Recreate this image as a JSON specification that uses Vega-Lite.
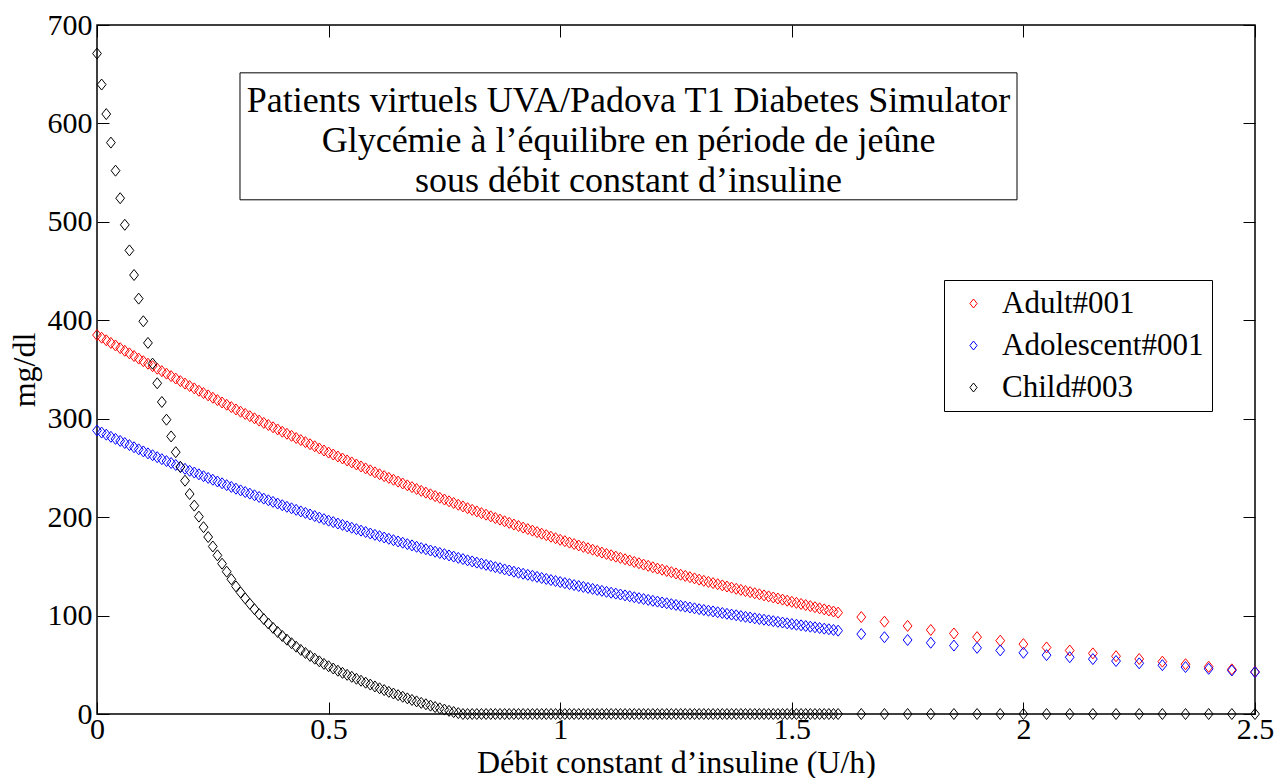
{
"$schema":"https://vega.github.io/schema/vega-lite/v6.json",
"width":1158,"height":689,
"autosize":{"type":"none"},
"padding":{"left":97,"top":25,"right":26,"bottom":64},
"background":"white",
"config":{"view":{"stroke":"black","strokeWidth":1.5},"font":"Liberation Serif",
"legend":{"labelFont":"Liberation Serif","titleFont":"Liberation Serif"},
"text":{"font":"Liberation Serif"},
"axis":{"labelFont":"Liberation Serif","titleFont":"Liberation Serif","labelFontSize":30,"titleFontSize":32,"titleFontWeight":"normal","labelColor":"black","titleColor":"black","tickColor":"black","tickWidth":1,"tickSize":-12,"domain":false,"grid":false,"labelFlush":false,"labelOverlap":false}},
"datasets":{"glyc":[
{"s":"Adult#001","x":0,"y":385},{"s":"Adult#001","x":0.01,"y":382.3},{"s":"Adult#001","x":0.02,"y":379.7},{"s":"Adult#001","x":0.03,"y":377},{"s":"Adult#001","x":0.04,"y":374.4},{"s":"Adult#001","x":0.05,"y":371.7},{"s":"Adult#001","x":0.06,"y":369},{"s":"Adult#001","x":0.07,"y":366.4},{"s":"Adult#001","x":0.08,"y":363.7},{"s":"Adult#001","x":0.09,"y":361.1},
{"s":"Adult#001","x":0.1,"y":358.4},{"s":"Adult#001","x":0.11,"y":355.9},{"s":"Adult#001","x":0.12,"y":353.4},{"s":"Adult#001","x":0.13,"y":350.8},{"s":"Adult#001","x":0.14,"y":348.3},{"s":"Adult#001","x":0.15,"y":345.8},{"s":"Adult#001","x":0.16,"y":343.3},{"s":"Adult#001","x":0.17,"y":340.8},{"s":"Adult#001","x":0.18,"y":338.2},{"s":"Adult#001","x":0.19,"y":335.7},
{"s":"Adult#001","x":0.2,"y":333.2},{"s":"Adult#001","x":0.21,"y":330.8},{"s":"Adult#001","x":0.22,"y":328.4},{"s":"Adult#001","x":0.23,"y":326.1},{"s":"Adult#001","x":0.24,"y":323.7},{"s":"Adult#001","x":0.25,"y":321.3},{"s":"Adult#001","x":0.26,"y":318.9},{"s":"Adult#001","x":0.27,"y":316.5},{"s":"Adult#001","x":0.28,"y":314.2},{"s":"Adult#001","x":0.29,"y":311.8},
{"s":"Adult#001","x":0.3,"y":309.4},{"s":"Adult#001","x":0.31,"y":307.1},{"s":"Adult#001","x":0.32,"y":304.9},{"s":"Adult#001","x":0.33,"y":302.6},{"s":"Adult#001","x":0.34,"y":300.4},{"s":"Adult#001","x":0.35,"y":298.1},{"s":"Adult#001","x":0.36,"y":295.8},{"s":"Adult#001","x":0.37,"y":293.6},{"s":"Adult#001","x":0.38,"y":291.3},{"s":"Adult#001","x":0.39,"y":289.1},
{"s":"Adult#001","x":0.4,"y":286.8},{"s":"Adult#001","x":0.41,"y":284.7},{"s":"Adult#001","x":0.42,"y":282.6},{"s":"Adult#001","x":0.43,"y":280.4},{"s":"Adult#001","x":0.44,"y":278.3},{"s":"Adult#001","x":0.45,"y":276.2},{"s":"Adult#001","x":0.46,"y":274.1},{"s":"Adult#001","x":0.47,"y":272},{"s":"Adult#001","x":0.48,"y":269.8},{"s":"Adult#001","x":0.49,"y":267.7},
{"s":"Adult#001","x":0.5,"y":265.6},{"s":"Adult#001","x":0.51,"y":263.6},{"s":"Adult#001","x":0.52,"y":261.6},{"s":"Adult#001","x":0.53,"y":259.6},{"s":"Adult#001","x":0.54,"y":257.6},{"s":"Adult#001","x":0.55,"y":255.6},{"s":"Adult#001","x":0.56,"y":253.5},{"s":"Adult#001","x":0.57,"y":251.5},{"s":"Adult#001","x":0.58,"y":249.5},{"s":"Adult#001","x":0.59,"y":247.5},
{"s":"Adult#001","x":0.6,"y":245.5},{"s":"Adult#001","x":0.61,"y":243.6},{"s":"Adult#001","x":0.62,"y":241.7},{"s":"Adult#001","x":0.63,"y":239.9},{"s":"Adult#001","x":0.64,"y":238},{"s":"Adult#001","x":0.65,"y":236.1},{"s":"Adult#001","x":0.66,"y":234.2},{"s":"Adult#001","x":0.67,"y":232.3},{"s":"Adult#001","x":0.68,"y":230.5},{"s":"Adult#001","x":0.69,"y":228.6},
{"s":"Adult#001","x":0.7,"y":226.7},{"s":"Adult#001","x":0.71,"y":224.9},{"s":"Adult#001","x":0.72,"y":223.2},{"s":"Adult#001","x":0.73,"y":221.4},{"s":"Adult#001","x":0.74,"y":219.7},{"s":"Adult#001","x":0.75,"y":217.9},{"s":"Adult#001","x":0.76,"y":216.1},{"s":"Adult#001","x":0.77,"y":214.4},{"s":"Adult#001","x":0.78,"y":212.6},{"s":"Adult#001","x":0.79,"y":210.9},
{"s":"Adult#001","x":0.8,"y":209.1},{"s":"Adult#001","x":0.81,"y":207.4},{"s":"Adult#001","x":0.82,"y":205.8},{"s":"Adult#001","x":0.83,"y":204.1},{"s":"Adult#001","x":0.84,"y":202.5},{"s":"Adult#001","x":0.85,"y":200.8},{"s":"Adult#001","x":0.86,"y":199.1},{"s":"Adult#001","x":0.87,"y":197.5},{"s":"Adult#001","x":0.88,"y":195.8},{"s":"Adult#001","x":0.89,"y":194.2},
{"s":"Adult#001","x":0.9,"y":192.5},{"s":"Adult#001","x":0.91,"y":191},{"s":"Adult#001","x":0.92,"y":189.4},{"s":"Adult#001","x":0.93,"y":187.9},{"s":"Adult#001","x":0.94,"y":186.3},{"s":"Adult#001","x":0.95,"y":184.8},{"s":"Adult#001","x":0.96,"y":183.2},{"s":"Adult#001","x":0.97,"y":181.7},{"s":"Adult#001","x":0.98,"y":180.1},{"s":"Adult#001","x":0.99,"y":178.6},
{"s":"Adult#001","x":1,"y":177},{"s":"Adult#001","x":1.01,"y":175.6},{"s":"Adult#001","x":1.02,"y":174.1},{"s":"Adult#001","x":1.03,"y":172.7},{"s":"Adult#001","x":1.04,"y":171.2},{"s":"Adult#001","x":1.05,"y":169.8},{"s":"Adult#001","x":1.06,"y":168.4},{"s":"Adult#001","x":1.07,"y":166.9},{"s":"Adult#001","x":1.08,"y":165.5},{"s":"Adult#001","x":1.09,"y":164},
{"s":"Adult#001","x":1.1,"y":162.6},{"s":"Adult#001","x":1.11,"y":161.3},{"s":"Adult#001","x":1.12,"y":159.9},{"s":"Adult#001","x":1.13,"y":158.6},{"s":"Adult#001","x":1.14,"y":157.2},{"s":"Adult#001","x":1.15,"y":155.9},{"s":"Adult#001","x":1.16,"y":154.5},{"s":"Adult#001","x":1.17,"y":153.2},{"s":"Adult#001","x":1.18,"y":151.8},{"s":"Adult#001","x":1.19,"y":150.5},
{"s":"Adult#001","x":1.2,"y":149.1},{"s":"Adult#001","x":1.21,"y":147.8},{"s":"Adult#001","x":1.22,"y":146.6},{"s":"Adult#001","x":1.23,"y":145.3},{"s":"Adult#001","x":1.24,"y":144.1},{"s":"Adult#001","x":1.25,"y":142.8},{"s":"Adult#001","x":1.26,"y":141.5},{"s":"Adult#001","x":1.27,"y":140.3},{"s":"Adult#001","x":1.28,"y":139},{"s":"Adult#001","x":1.29,"y":137.8},
{"s":"Adult#001","x":1.3,"y":136.5},{"s":"Adult#001","x":1.31,"y":135.3},{"s":"Adult#001","x":1.32,"y":134.2},{"s":"Adult#001","x":1.33,"y":133},{"s":"Adult#001","x":1.34,"y":131.9},{"s":"Adult#001","x":1.35,"y":130.7},{"s":"Adult#001","x":1.36,"y":129.5},{"s":"Adult#001","x":1.37,"y":128.4},{"s":"Adult#001","x":1.38,"y":127.2},{"s":"Adult#001","x":1.39,"y":126.1},
{"s":"Adult#001","x":1.4,"y":124.9},{"s":"Adult#001","x":1.41,"y":123.8},{"s":"Adult#001","x":1.42,"y":122.7},{"s":"Adult#001","x":1.43,"y":121.6},{"s":"Adult#001","x":1.44,"y":120.5},{"s":"Adult#001","x":1.45,"y":119.5},{"s":"Adult#001","x":1.46,"y":118.4},{"s":"Adult#001","x":1.47,"y":117.3},{"s":"Adult#001","x":1.48,"y":116.2},{"s":"Adult#001","x":1.49,"y":115.1},
{"s":"Adult#001","x":1.5,"y":114},{"s":"Adult#001","x":1.51,"y":112.9},{"s":"Adult#001","x":1.52,"y":111.8},{"s":"Adult#001","x":1.53,"y":110.7},{"s":"Adult#001","x":1.54,"y":109.6},{"s":"Adult#001","x":1.55,"y":108.5},{"s":"Adult#001","x":1.56,"y":107.4},{"s":"Adult#001","x":1.57,"y":106.3},{"s":"Adult#001","x":1.58,"y":105.2},{"s":"Adult#001","x":1.59,"y":104.1},
{"s":"Adult#001","x":1.6,"y":103},{"s":"Adult#001","x":1.65,"y":98.5},{"s":"Adult#001","x":1.7,"y":93.8},{"s":"Adult#001","x":1.75,"y":89.5},{"s":"Adult#001","x":1.8,"y":85.4},{"s":"Adult#001","x":1.85,"y":81.8},{"s":"Adult#001","x":1.9,"y":78.1},{"s":"Adult#001","x":1.95,"y":74.5},{"s":"Adult#001","x":2,"y":71},{"s":"Adult#001","x":2.05,"y":67.6},{"s":"Adult#001","x":2.1,"y":64.5},{"s":"Adult#001","x":2.15,"y":61.6},{"s":"Adult#001","x":2.2,"y":58.7},{"s":"Adult#001","x":2.25,"y":55.9},{"s":"Adult#001","x":2.3,"y":53.2},{"s":"Adult#001","x":2.35,"y":50.6},{"s":"Adult#001","x":2.4,"y":48},{"s":"Adult#001","x":2.45,"y":45.4},{"s":"Adult#001","x":2.5,"y":42.8},
{"s":"Adolescent#001","x":0,"y":288},{"s":"Adolescent#001","x":0.01,"y":285.9},{"s":"Adolescent#001","x":0.02,"y":283.8},{"s":"Adolescent#001","x":0.03,"y":281.6},{"s":"Adolescent#001","x":0.04,"y":279.5},{"s":"Adolescent#001","x":0.05,"y":277.4},{"s":"Adolescent#001","x":0.06,"y":275.3},{"s":"Adolescent#001","x":0.07,"y":273.2},{"s":"Adolescent#001","x":0.08,"y":271},{"s":"Adolescent#001","x":0.09,"y":268.9},
{"s":"Adolescent#001","x":0.1,"y":266.8},{"s":"Adolescent#001","x":0.11,"y":264.8},{"s":"Adolescent#001","x":0.12,"y":262.9},{"s":"Adolescent#001","x":0.13,"y":260.9},{"s":"Adolescent#001","x":0.14,"y":258.9},{"s":"Adolescent#001","x":0.15,"y":257},{"s":"Adolescent#001","x":0.16,"y":255},{"s":"Adolescent#001","x":0.17,"y":253},{"s":"Adolescent#001","x":0.18,"y":251},{"s":"Adolescent#001","x":0.19,"y":249.1},
{"s":"Adolescent#001","x":0.2,"y":247.1},{"s":"Adolescent#001","x":0.21,"y":245.3},{"s":"Adolescent#001","x":0.22,"y":243.5},{"s":"Adolescent#001","x":0.23,"y":241.6},{"s":"Adolescent#001","x":0.24,"y":239.8},{"s":"Adolescent#001","x":0.25,"y":238},{"s":"Adolescent#001","x":0.26,"y":236.2},{"s":"Adolescent#001","x":0.27,"y":234.4},{"s":"Adolescent#001","x":0.28,"y":232.5},{"s":"Adolescent#001","x":0.29,"y":230.7},
{"s":"Adolescent#001","x":0.3,"y":228.9},{"s":"Adolescent#001","x":0.31,"y":227.2},{"s":"Adolescent#001","x":0.32,"y":225.5},{"s":"Adolescent#001","x":0.33,"y":223.9},{"s":"Adolescent#001","x":0.34,"y":222.2},{"s":"Adolescent#001","x":0.35,"y":220.5},{"s":"Adolescent#001","x":0.36,"y":218.8},{"s":"Adolescent#001","x":0.37,"y":217.1},{"s":"Adolescent#001","x":0.38,"y":215.5},{"s":"Adolescent#001","x":0.39,"y":213.8},
{"s":"Adolescent#001","x":0.4,"y":212.1},{"s":"Adolescent#001","x":0.41,"y":210.5},{"s":"Adolescent#001","x":0.42,"y":209},{"s":"Adolescent#001","x":0.43,"y":207.4},{"s":"Adolescent#001","x":0.44,"y":205.8},{"s":"Adolescent#001","x":0.45,"y":204.3},{"s":"Adolescent#001","x":0.46,"y":202.7},{"s":"Adolescent#001","x":0.47,"y":201.1},{"s":"Adolescent#001","x":0.48,"y":199.5},{"s":"Adolescent#001","x":0.49,"y":198},
{"s":"Adolescent#001","x":0.5,"y":196.4},{"s":"Adolescent#001","x":0.51,"y":195},{"s":"Adolescent#001","x":0.52,"y":193.5},{"s":"Adolescent#001","x":0.53,"y":192.1},{"s":"Adolescent#001","x":0.54,"y":190.6},{"s":"Adolescent#001","x":0.55,"y":189.2},{"s":"Adolescent#001","x":0.56,"y":187.8},{"s":"Adolescent#001","x":0.57,"y":186.3},{"s":"Adolescent#001","x":0.58,"y":184.9},{"s":"Adolescent#001","x":0.59,"y":183.4},
{"s":"Adolescent#001","x":0.6,"y":182},{"s":"Adolescent#001","x":0.61,"y":180.7},{"s":"Adolescent#001","x":0.62,"y":179.3},{"s":"Adolescent#001","x":0.63,"y":178},{"s":"Adolescent#001","x":0.64,"y":176.6},{"s":"Adolescent#001","x":0.65,"y":175.3},{"s":"Adolescent#001","x":0.66,"y":174},{"s":"Adolescent#001","x":0.67,"y":172.6},{"s":"Adolescent#001","x":0.68,"y":171.3},{"s":"Adolescent#001","x":0.69,"y":169.9},
{"s":"Adolescent#001","x":0.7,"y":168.6},{"s":"Adolescent#001","x":0.71,"y":167.4},{"s":"Adolescent#001","x":0.72,"y":166.1},{"s":"Adolescent#001","x":0.73,"y":164.9},{"s":"Adolescent#001","x":0.74,"y":163.6},{"s":"Adolescent#001","x":0.75,"y":162.4},{"s":"Adolescent#001","x":0.76,"y":161.1},{"s":"Adolescent#001","x":0.77,"y":159.9},{"s":"Adolescent#001","x":0.78,"y":158.6},{"s":"Adolescent#001","x":0.79,"y":157.4},
{"s":"Adolescent#001","x":0.8,"y":156.1},{"s":"Adolescent#001","x":0.81,"y":155},{"s":"Adolescent#001","x":0.82,"y":153.8},{"s":"Adolescent#001","x":0.83,"y":152.7},{"s":"Adolescent#001","x":0.84,"y":151.5},{"s":"Adolescent#001","x":0.85,"y":150.4},{"s":"Adolescent#001","x":0.86,"y":149.2},{"s":"Adolescent#001","x":0.87,"y":148.1},{"s":"Adolescent#001","x":0.88,"y":146.9},{"s":"Adolescent#001","x":0.89,"y":145.8},
{"s":"Adolescent#001","x":0.9,"y":144.6},{"s":"Adolescent#001","x":0.91,"y":143.5},{"s":"Adolescent#001","x":0.92,"y":142.5},{"s":"Adolescent#001","x":0.93,"y":141.4},{"s":"Adolescent#001","x":0.94,"y":140.4},{"s":"Adolescent#001","x":0.95,"y":139.3},{"s":"Adolescent#001","x":0.96,"y":138.2},{"s":"Adolescent#001","x":0.97,"y":137.2},{"s":"Adolescent#001","x":0.98,"y":136.1},{"s":"Adolescent#001","x":0.99,"y":135.1},
{"s":"Adolescent#001","x":1,"y":134},{"s":"Adolescent#001","x":1.01,"y":133},{"s":"Adolescent#001","x":1.02,"y":132},{"s":"Adolescent#001","x":1.03,"y":131},{"s":"Adolescent#001","x":1.04,"y":130},{"s":"Adolescent#001","x":1.05,"y":129.1},{"s":"Adolescent#001","x":1.06,"y":128.1},{"s":"Adolescent#001","x":1.07,"y":127.1},{"s":"Adolescent#001","x":1.08,"y":126.1},{"s":"Adolescent#001","x":1.09,"y":125.1},
{"s":"Adolescent#001","x":1.1,"y":124.1},{"s":"Adolescent#001","x":1.11,"y":123.2},{"s":"Adolescent#001","x":1.12,"y":122.3},{"s":"Adolescent#001","x":1.13,"y":121.4},{"s":"Adolescent#001","x":1.14,"y":120.5},{"s":"Adolescent#001","x":1.15,"y":119.6},{"s":"Adolescent#001","x":1.16,"y":118.6},{"s":"Adolescent#001","x":1.17,"y":117.7},{"s":"Adolescent#001","x":1.18,"y":116.8},{"s":"Adolescent#001","x":1.19,"y":115.9},
{"s":"Adolescent#001","x":1.2,"y":115},{"s":"Adolescent#001","x":1.21,"y":114.2},{"s":"Adolescent#001","x":1.22,"y":113.3},{"s":"Adolescent#001","x":1.23,"y":112.5},{"s":"Adolescent#001","x":1.24,"y":111.6},{"s":"Adolescent#001","x":1.25,"y":110.8},{"s":"Adolescent#001","x":1.26,"y":109.9},{"s":"Adolescent#001","x":1.27,"y":109.1},{"s":"Adolescent#001","x":1.28,"y":108.2},{"s":"Adolescent#001","x":1.29,"y":107.4},
{"s":"Adolescent#001","x":1.3,"y":106.5},{"s":"Adolescent#001","x":1.31,"y":105.7},{"s":"Adolescent#001","x":1.32,"y":104.9},{"s":"Adolescent#001","x":1.33,"y":104.2},{"s":"Adolescent#001","x":1.34,"y":103.4},{"s":"Adolescent#001","x":1.35,"y":102.6},{"s":"Adolescent#001","x":1.36,"y":101.8},{"s":"Adolescent#001","x":1.37,"y":101},{"s":"Adolescent#001","x":1.38,"y":100.3},{"s":"Adolescent#001","x":1.39,"y":99.5},
{"s":"Adolescent#001","x":1.4,"y":98.7},{"s":"Adolescent#001","x":1.41,"y":98},{"s":"Adolescent#001","x":1.42,"y":97.2},{"s":"Adolescent#001","x":1.43,"y":96.5},{"s":"Adolescent#001","x":1.44,"y":95.8},{"s":"Adolescent#001","x":1.45,"y":95.1},{"s":"Adolescent#001","x":1.46,"y":94.3},{"s":"Adolescent#001","x":1.47,"y":93.6},{"s":"Adolescent#001","x":1.48,"y":92.9},{"s":"Adolescent#001","x":1.49,"y":92.1},
{"s":"Adolescent#001","x":1.5,"y":91.4},{"s":"Adolescent#001","x":1.51,"y":90.7},{"s":"Adolescent#001","x":1.52,"y":90.1},{"s":"Adolescent#001","x":1.53,"y":89.4},{"s":"Adolescent#001","x":1.54,"y":88.7},{"s":"Adolescent#001","x":1.55,"y":88.1},{"s":"Adolescent#001","x":1.56,"y":87.4},{"s":"Adolescent#001","x":1.57,"y":86.7},{"s":"Adolescent#001","x":1.58,"y":86.1},{"s":"Adolescent#001","x":1.59,"y":85.4},
{"s":"Adolescent#001","x":1.6,"y":84.7},{"s":"Adolescent#001","x":1.65,"y":81.2},{"s":"Adolescent#001","x":1.7,"y":78},{"s":"Adolescent#001","x":1.75,"y":75.2},{"s":"Adolescent#001","x":1.8,"y":72.4},{"s":"Adolescent#001","x":1.85,"y":69.5},{"s":"Adolescent#001","x":1.9,"y":67.2},{"s":"Adolescent#001","x":1.95,"y":64.6},{"s":"Adolescent#001","x":2,"y":62.2},{"s":"Adolescent#001","x":2.05,"y":59.8},{"s":"Adolescent#001","x":2.1,"y":57.7},{"s":"Adolescent#001","x":2.15,"y":55.8},{"s":"Adolescent#001","x":2.2,"y":53.8},{"s":"Adolescent#001","x":2.25,"y":51.5},{"s":"Adolescent#001","x":2.3,"y":49.6},{"s":"Adolescent#001","x":2.35,"y":47.7},{"s":"Adolescent#001","x":2.4,"y":45.9},{"s":"Adolescent#001","x":2.45,"y":44.2},{"s":"Adolescent#001","x":2.5,"y":42.5},
{"s":"Child#003","x":0,"y":671},{"s":"Child#003","x":0.01,"y":639.5},{"s":"Child#003","x":0.02,"y":609.5},{"s":"Child#003","x":0.03,"y":580.5},{"s":"Child#003","x":0.04,"y":552},{"s":"Child#003","x":0.05,"y":524},{"s":"Child#003","x":0.06,"y":497},{"s":"Child#003","x":0.07,"y":471},{"s":"Child#003","x":0.08,"y":446},{"s":"Child#003","x":0.09,"y":422},
{"s":"Child#003","x":0.1,"y":399},{"s":"Child#003","x":0.11,"y":377},{"s":"Child#003","x":0.12,"y":356},{"s":"Child#003","x":0.13,"y":336},{"s":"Child#003","x":0.14,"y":317},{"s":"Child#003","x":0.15,"y":299},{"s":"Child#003","x":0.16,"y":282},{"s":"Child#003","x":0.17,"y":266},{"s":"Child#003","x":0.18,"y":251},{"s":"Child#003","x":0.19,"y":237},
{"s":"Child#003","x":0.2,"y":223.5},{"s":"Child#003","x":0.21,"y":211.7},{"s":"Child#003","x":0.22,"y":200.5},{"s":"Child#003","x":0.23,"y":189.8},{"s":"Child#003","x":0.24,"y":179.8},{"s":"Child#003","x":0.25,"y":170.2},{"s":"Child#003","x":0.26,"y":161.2},{"s":"Child#003","x":0.27,"y":152.7},{"s":"Child#003","x":0.28,"y":144.6},{"s":"Child#003","x":0.29,"y":136.9},
{"s":"Child#003","x":0.3,"y":129.7},{"s":"Child#003","x":0.31,"y":123.5},{"s":"Child#003","x":0.32,"y":117.5},{"s":"Child#003","x":0.33,"y":111.9},{"s":"Child#003","x":0.34,"y":106.5},{"s":"Child#003","x":0.35,"y":101.4},{"s":"Child#003","x":0.36,"y":96.5},{"s":"Child#003","x":0.37,"y":91.9},{"s":"Child#003","x":0.38,"y":87.5},{"s":"Child#003","x":0.39,"y":83.3},
{"s":"Child#003","x":0.4,"y":79.3},{"s":"Child#003","x":0.41,"y":75.5},{"s":"Child#003","x":0.42,"y":71.9},{"s":"Child#003","x":0.43,"y":68.4},{"s":"Child#003","x":0.44,"y":65.1},{"s":"Child#003","x":0.45,"y":62},{"s":"Child#003","x":0.46,"y":59},{"s":"Child#003","x":0.47,"y":56.2},{"s":"Child#003","x":0.48,"y":53.5},{"s":"Child#003","x":0.49,"y":50.9},
{"s":"Child#003","x":0.5,"y":48.5},{"s":"Child#003","x":0.51,"y":46.2},{"s":"Child#003","x":0.52,"y":44},{"s":"Child#003","x":0.53,"y":41.8},{"s":"Child#003","x":0.54,"y":39.8},{"s":"Child#003","x":0.55,"y":37.8},{"s":"Child#003","x":0.56,"y":35.8},{"s":"Child#003","x":0.57,"y":33.8},{"s":"Child#003","x":0.58,"y":31.8},{"s":"Child#003","x":0.59,"y":29.9},
{"s":"Child#003","x":0.6,"y":28},{"s":"Child#003","x":0.61,"y":26.1},{"s":"Child#003","x":0.62,"y":24.3},{"s":"Child#003","x":0.63,"y":22.5},{"s":"Child#003","x":0.64,"y":20.8},{"s":"Child#003","x":0.65,"y":19.1},{"s":"Child#003","x":0.66,"y":17.5},{"s":"Child#003","x":0.67,"y":15.9},{"s":"Child#003","x":0.68,"y":14.3},{"s":"Child#003","x":0.69,"y":12.8},
{"s":"Child#003","x":0.7,"y":11.3},{"s":"Child#003","x":0.71,"y":9.9},{"s":"Child#003","x":0.72,"y":8.5},{"s":"Child#003","x":0.73,"y":7.1},{"s":"Child#003","x":0.74,"y":5.8},{"s":"Child#003","x":0.75,"y":4.5},{"s":"Child#003","x":0.76,"y":3.2},{"s":"Child#003","x":0.77,"y":2},{"s":"Child#003","x":0.78,"y":0.9},{"s":"Child#003","x":0.79,"y":0},
{"s":"Child#003","x":0.8,"y":0},{"s":"Child#003","x":0.81,"y":0},{"s":"Child#003","x":0.82,"y":0},{"s":"Child#003","x":0.83,"y":0},{"s":"Child#003","x":0.84,"y":0},{"s":"Child#003","x":0.85,"y":0},{"s":"Child#003","x":0.86,"y":0},{"s":"Child#003","x":0.87,"y":0},{"s":"Child#003","x":0.88,"y":0},{"s":"Child#003","x":0.89,"y":0},
{"s":"Child#003","x":0.9,"y":0},{"s":"Child#003","x":0.91,"y":0},{"s":"Child#003","x":0.92,"y":0},{"s":"Child#003","x":0.93,"y":0},{"s":"Child#003","x":0.94,"y":0},{"s":"Child#003","x":0.95,"y":0},{"s":"Child#003","x":0.96,"y":0},{"s":"Child#003","x":0.97,"y":0},{"s":"Child#003","x":0.98,"y":0},{"s":"Child#003","x":0.99,"y":0},
{"s":"Child#003","x":1,"y":0},{"s":"Child#003","x":1.01,"y":0},{"s":"Child#003","x":1.02,"y":0},{"s":"Child#003","x":1.03,"y":0},{"s":"Child#003","x":1.04,"y":0},{"s":"Child#003","x":1.05,"y":0},{"s":"Child#003","x":1.06,"y":0},{"s":"Child#003","x":1.07,"y":0},{"s":"Child#003","x":1.08,"y":0},{"s":"Child#003","x":1.09,"y":0},
{"s":"Child#003","x":1.1,"y":0},{"s":"Child#003","x":1.11,"y":0},{"s":"Child#003","x":1.12,"y":0},{"s":"Child#003","x":1.13,"y":0},{"s":"Child#003","x":1.14,"y":0},{"s":"Child#003","x":1.15,"y":0},{"s":"Child#003","x":1.16,"y":0},{"s":"Child#003","x":1.17,"y":0},{"s":"Child#003","x":1.18,"y":0},{"s":"Child#003","x":1.19,"y":0},
{"s":"Child#003","x":1.2,"y":0},{"s":"Child#003","x":1.21,"y":0},{"s":"Child#003","x":1.22,"y":0},{"s":"Child#003","x":1.23,"y":0},{"s":"Child#003","x":1.24,"y":0},{"s":"Child#003","x":1.25,"y":0},{"s":"Child#003","x":1.26,"y":0},{"s":"Child#003","x":1.27,"y":0},{"s":"Child#003","x":1.28,"y":0},{"s":"Child#003","x":1.29,"y":0},
{"s":"Child#003","x":1.3,"y":0},{"s":"Child#003","x":1.31,"y":0},{"s":"Child#003","x":1.32,"y":0},{"s":"Child#003","x":1.33,"y":0},{"s":"Child#003","x":1.34,"y":0},{"s":"Child#003","x":1.35,"y":0},{"s":"Child#003","x":1.36,"y":0},{"s":"Child#003","x":1.37,"y":0},{"s":"Child#003","x":1.38,"y":0},{"s":"Child#003","x":1.39,"y":0},
{"s":"Child#003","x":1.4,"y":0},{"s":"Child#003","x":1.41,"y":0},{"s":"Child#003","x":1.42,"y":0},{"s":"Child#003","x":1.43,"y":0},{"s":"Child#003","x":1.44,"y":0},{"s":"Child#003","x":1.45,"y":0},{"s":"Child#003","x":1.46,"y":0},{"s":"Child#003","x":1.47,"y":0},{"s":"Child#003","x":1.48,"y":0},{"s":"Child#003","x":1.49,"y":0},
{"s":"Child#003","x":1.5,"y":0},{"s":"Child#003","x":1.51,"y":0},{"s":"Child#003","x":1.52,"y":0},{"s":"Child#003","x":1.53,"y":0},{"s":"Child#003","x":1.54,"y":0},{"s":"Child#003","x":1.55,"y":0},{"s":"Child#003","x":1.56,"y":0},{"s":"Child#003","x":1.57,"y":0},{"s":"Child#003","x":1.58,"y":0},{"s":"Child#003","x":1.59,"y":0},
{"s":"Child#003","x":1.6,"y":0},{"s":"Child#003","x":1.65,"y":0},{"s":"Child#003","x":1.7,"y":0},{"s":"Child#003","x":1.75,"y":0},{"s":"Child#003","x":1.8,"y":0},{"s":"Child#003","x":1.85,"y":0},{"s":"Child#003","x":1.9,"y":0},{"s":"Child#003","x":1.95,"y":0},{"s":"Child#003","x":2,"y":0},{"s":"Child#003","x":2.05,"y":0},{"s":"Child#003","x":2.1,"y":0},{"s":"Child#003","x":2.15,"y":0},{"s":"Child#003","x":2.2,"y":0},{"s":"Child#003","x":2.25,"y":0},{"s":"Child#003","x":2.3,"y":0},{"s":"Child#003","x":2.35,"y":0},{"s":"Child#003","x":2.4,"y":0},{"s":"Child#003","x":2.45,"y":0},{"s":"Child#003","x":2.5,"y":0}
],
"annot":[{"t":"titre"}]},
"layer":[
{"data":{"name":"glyc"},
"mark":{"type":"point","shape":"M-0.8,0L0,-1L0.8,0L0,1Z","filled":false,"size":121,"strokeWidth":1,"opacity":1},
"encoding":{
"x":{"field":"x","type":"quantitative","scale":{"domain":[0,2.5],"nice":false,"zero":false},
"axis":{"orient":"bottom","values":[0,0.5,1,1.5,2,2.5],"format":"~g","title":"Débit constant d’insuline (U/h)","labelPadding":12,"titlePadding":3}},
"y":{"field":"y","type":"quantitative","scale":{"domain":[0,700],"nice":false},
"axis":{"orient":"left","values":[0,100,200,300,400,500,600,700],"title":"mg/dl","labelPadding":17,"titlePadding":6}},
"color":{"field":"s","type":"nominal","scale":{"domain":["Adult#001","Adolescent#001","Child#003"],"range":["#ff0000","#0000ff","#000000"]},
"legend":{"orient":"none","legendX":847,"legendY":255,"title":null,"strokeColor":"black","fillColor":"white","padding":8,"labelFontSize":31,"labelFont":"Liberation Serif","labelColor":"black","labelLimit":600,"symbolSize":81,"symbolType":"M-0.8,0L0,-1L0.8,0L0,1Z","symbolStrokeWidth":1,"symbolOffset":6,"labelOffset":13,"rowPadding":10}}
}},
{"data":{"name":"annot"},
"mark":{"type":"rect","fill":"white","stroke":"black","strokeWidth":1},
"encoding":{
"x":{"datum":0.3087,"type":"quantitative","axis":{"orient":"top","labels":false,"title":null,"values":[0,0.5,1,1.5,2,2.5]}},
"x2":{"datum":1.9862},
"y":{"datum":651.4,"type":"quantitative","axis":{"orient":"right","labels":false,"title":null,"values":[0,100,200,300,400,500,600,700]}},
"y2":{"datum":522.4}
}},
{"data":{"name":"annot"},
"mark":{"type":"text","text":["Patients virtuels UVA/Padova T1 Diabetes Simulator","Glycémie à l’équilibre en période de jeûne","sous débit constant d’insuline"],"font":"Liberation Serif","fontSize":36,"lineHeight":40,"align":"center","baseline":"alphabetic","color":"black"},
"encoding":{
"x":{"datum":1.1475,"type":"quantitative","axis":null},
"y":{"datum":611.8,"type":"quantitative","axis":null}
}}
],
"resolve":{"axis":{"x":"independent","y":"independent"}}
}
